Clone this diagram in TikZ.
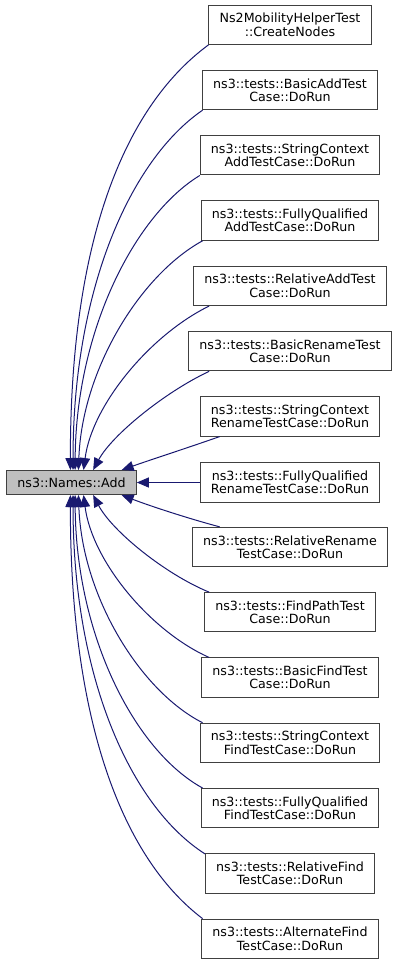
\documentclass[tikz,border=0pt]{standalone}
\usepackage{fontspec}
\setmainfont{DejaVu Sans}
\usetikzlibrary{arrows.meta}

\definecolor{edgeblue}{HTML}{191970}
\definecolor{boxline}{HTML}{404040}
\definecolor{boxgray}{HTML}{BFBFBF}

\tikzset{
	fn/.style={draw=boxline, line width=0.75pt, fill=white, align=center, inner xsep=8pt, inner ysep=0pt, minimum height=29.5pt, font=\fontsize{9.5pt}{10pt}\selectfont},
	cur/.style={fn, fill=boxgray, minimum height=18pt},
	call/.style={draw=edgeblue, line width=0.75pt, -{Triangle[length=9pt,width=7.5pt]}}
}

\begin{document}
\begin{tikzpicture}[x=0.75pt, y=-0.75pt]
	\useasboundingbox (0,0) rectangle (400,965);

	% the function that is called
	\node[cur] (add) at (71.5,482.5) {ns3::Names::Add};

	% callers
	\node[fn] (mob)   at (290,24.7)  {Ns2MobilityHelperTest\\::CreateNodes};
	\node[fn] (badd)  at (290,90.0)  {ns3::tests::BasicAddTest\\Case::DoRun};
	\node[fn] (sadd)  at (290,155.3) {ns3::tests::StringContext\\AddTestCase::DoRun};
	\node[fn] (fadd)  at (290,220.6) {ns3::tests::FullyQualified\\AddTestCase::DoRun};
	\node[fn] (radd)  at (290,285.9) {ns3::tests::RelativeAddTest\\Case::DoRun};
	\node[fn] (bren)  at (290,351.2) {ns3::tests::BasicRenameTest\\Case::DoRun};
	\node[fn] (sren)  at (290,416.4) {ns3::tests::StringContext\\RenameTestCase::DoRun};
	\node[fn] (fren)  at (290,482.5) {ns3::tests::FullyQualified\\RenameTestCase::DoRun};
	\node[fn] (rren)  at (290,547.0) {ns3::tests::RelativeRename\\TestCase::DoRun};
	\node[fn] (fpath) at (290,612.3) {ns3::tests::FindPathTest\\Case::DoRun};
	\node[fn] (bfind) at (290,677.6) {ns3::tests::BasicFindTest\\Case::DoRun};
	\node[fn] (sfind) at (290,742.9) {ns3::tests::StringContext\\FindTestCase::DoRun};
	\node[fn] (ffind) at (290,808.2) {ns3::tests::FullyQualified\\FindTestCase::DoRun};
	\node[fn] (rfind) at (290,873.5) {ns3::tests::RelativeFind\\TestCase::DoRun};
	\node[fn] (afind) at (290,938.8) {ns3::tests::AlternateFind\\TestCase::DoRun};

	% calls from above
	\draw[call] (mob.south west) .. controls (120,110) and (70,250) .. (add.95);
	\draw[call] (badd.193) .. controls (130,160) and (73,290) .. (add.83);
	\draw[call] (sadd.south west) .. controls (135,215) and (76,330) .. (add.74);
	\draw[call] (fadd.193) .. controls (140,275) and (82,370) .. (add.61);
	\draw[call] (radd.194) .. controls (150,335) and (92,405) .. (add.46);
	\draw[call] (bren.194) .. controls (165,392) and (112,435) .. (add.30);
	\draw[call] (sren.196) .. controls (190,447) and (150,460) .. (add.14);

	% straight call
	\draw[call] (fren.west) -- (add.east);

	% calls from below
	\draw[call] (rren.164) .. controls (190,519) and (150,506) .. (add.-14);
	\draw[call] (fpath.166) .. controls (165,574) and (112,531) .. (add.-30);
	\draw[call] (bfind.166) .. controls (150,631) and (92,561) .. (add.-46);
	\draw[call] (sfind.167) .. controls (140,691) and (82,596) .. (add.-61);
	\draw[call] (ffind.167) .. controls (135,751) and (76,636) .. (add.-74);
	\draw[call] (rfind.167) .. controls (130,806) and (73,676) .. (add.-83);
	\draw[call] (afind.167) .. controls (120,856) and (70,716) .. (add.-95);
\end{tikzpicture}
\end{document}
